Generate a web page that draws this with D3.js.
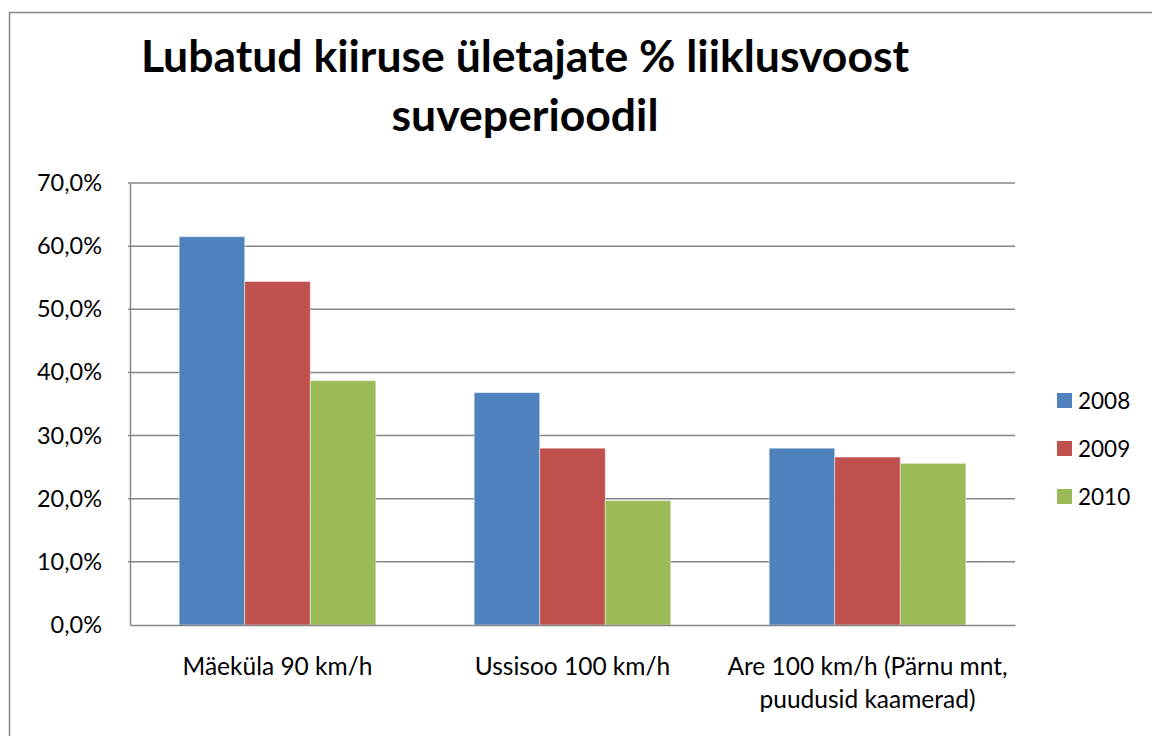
<!DOCTYPE html>
<html>
<head>
<meta charset="utf-8">
<script src="https://cdn.jsdelivr.net/npm/d3@7"></script>
<style>
  body { margin: 0; background: #fff; }
  svg { display: block; font-family: Lato, "Open Sans", sans-serif; }
</style>
</head>
<body>
<div id="chart"></div>
<script>
// data
var categories = ["Mäeküla 90 km/h", "Ussisoo 100 km/h", "Are 100 km/h (Pärnu mnt, puudusid kaamerad)"];
var categoryLines = [["Mäeküla 90 km/h"], ["Ussisoo 100 km/h"], ["Are 100 km/h (Pärnu mnt,", "puudusid kaamerad)"]];
var years = ["2008", "2009", "2010"];
var values2008 = [0.615, 0.368, 0.280];
var values2009 = [0.544, 0.280, 0.266];
var values2010 = [0.387, 0.197, 0.256];
var yTicks = [0, 0.1, 0.2, 0.3, 0.4, 0.5, 0.6, 0.7];
var colors = ["#4F81BD", "#C0504D", "#9BBB59"];
var titleLines = ["Lubatud kiiruse ületajate % liiklusvoost", "suveperioodil"];

var svgWidth = 1152;
var svgHeight = 736;

var plot = { left: 130, right: 1015, top: 183, bottom: 625 };

var svg = d3.select("#chart").append("svg").attr("width", svgWidth).attr("height", svgHeight);

// outer chart frame
svg.append("rect")
  .attr("x", 9.5).attr("y", 12.5)
  .attr("width", 1160).attr("height", 740)
  .attr("fill", "none")
  .attr("stroke", "#868686")
  .attr("stroke-width", 1.5);

// title
svg.append("text")
  .attr("text-anchor", "middle")
  .attr("font-weight", "bold")
  .attr("font-size", 44.5)
  .selectAll("tspan").data(titleLines).enter()
  .append("tspan")
  .attr("x", 525)
  .attr("y", (d, i) => 72 + i * 59)
  .text(d => d);

var yScale = d3.scaleLinear().domain([0, 0.7]).range([plot.bottom, plot.top]);

var xScale = d3.scaleBand().domain(categories).range([plot.left, plot.right])
  .paddingInner(1 / 3).paddingOuter(1 / 6);

var xInner = d3.scaleBand().domain(years).range([0, xScale.bandwidth()]);

var fmt = d => d3.format(".1f")(d * 100).replace(".", ",") + "%";

// gridlines
svg.append("g").selectAll("line").data(yTicks.filter(d => d > 0)).enter()
  .append("line")
  .attr("x1", plot.left - 2).attr("x2", plot.right)
  .attr("y1", d => yScale(d)).attr("y2", d => yScale(d))
  .attr("stroke", "#868686")
  .attr("stroke-width", 1.5);

// left axis
var leftAxis = d3.axisLeft(yScale).tickValues(yTicks).tickFormat(fmt).tickSize(0).tickPadding(28);
var yAxisG = svg.append("g").attr("transform", `translate(${plot.left}, 0)`).call(leftAxis);
yAxisG.select(".domain").attr("stroke", "#868686").attr("stroke-width", 1.5);
yAxisG.selectAll("text").attr("font-size", 23.5).attr("fill", "#000").attr("font-family", "Lato, sans-serif");

// bars
var series = [values2008, values2009, values2010];
var barGroups = svg.append("g").selectAll("g").data(years).enter()
  .append("g")
  .attr("fill", (d, i) => colors[i]);

barGroups.selectAll("rect")
  .data((y, si) => categories.map((c, ci) => ({ cat: c, year: y, value: series[si][ci] })))
  .enter()
  .append("rect")
  .attr("x", d => xScale(d.cat) + xInner(d.year))
  .attr("width", xInner.bandwidth())
  .attr("y", d => yScale(d.value))
  .attr("height", d => yScale(0) - yScale(d.value))
  .attr("stroke", "rgba(255,255,255,0.45)")
  .attr("stroke-width", 1);

// bottom axis line
var bottomAxis = d3.axisBottom(xScale).tickSize(0).tickFormat("");
var xAxisG = svg.append("g").attr("transform", `translate(0, ${plot.bottom})`).call(bottomAxis);
xAxisG.select(".domain").attr("stroke", "#868686").attr("stroke-width", 1.5);

// category labels
svg.append("g").selectAll("text").data(categories).enter()
  .append("text")
  .attr("text-anchor", "middle")
  .attr("font-size", 24.5)
  .attr("fill", "#000")
  .each(function(d, i) {
    d3.select(this).selectAll("tspan").data(categoryLines[i]).enter()
      .append("tspan")
      .attr("x", xScale(d) + xScale.bandwidth() / 2)
      .attr("y", (l, j) => 675 + j * 33)
      .text(l => l);
  });

// legend
var legend = svg.append("g").selectAll("g").data(years).enter()
  .append("g")
  .attr("transform", (d, i) => `translate(1057, ${393 + i * 48})`);

legend.append("rect")
  .attr("width", 15).attr("height", 15)
  .attr("fill", (d, i) => colors[i]);

legend.append("text")
  .attr("x", 21).attr("y", 15.5)
  .attr("font-size", 22.5)
  .attr("fill", "#000")
  .text(d => d);
</script>
</body>
</html>
